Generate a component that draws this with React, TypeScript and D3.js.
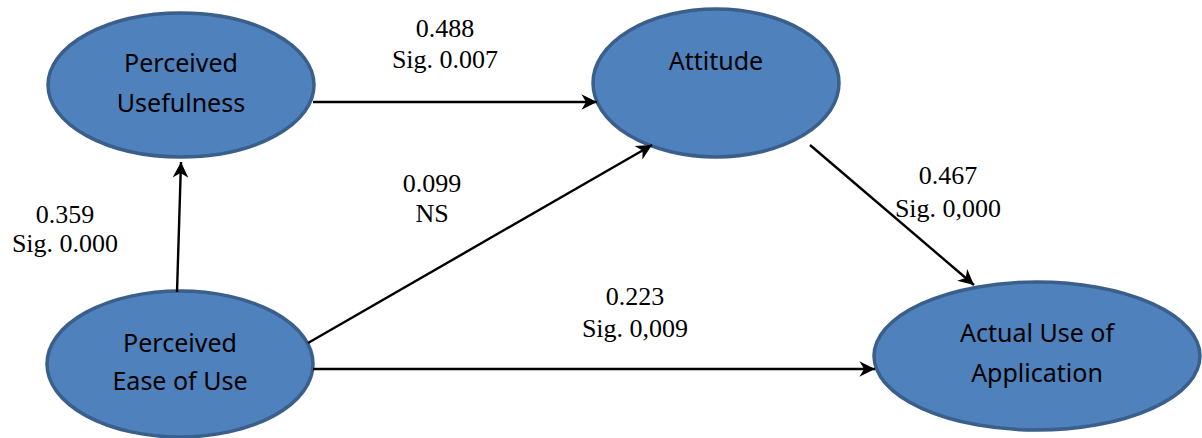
import React, { useEffect, useRef } from "react";
import * as d3 from "d3";

// ---- data ----
const constructs = ["Perceived Usefulness", "Attitude", "Perceived Ease of Use", "Actual Use of Application"];
const constructLines = [["Perceived", "Usefulness"], ["Attitude"], ["Perceived", "Ease of Use"], ["Actual Use of", "Application"]];
const pathFrom = [2, 0, 2, 1, 2];
const pathTo = [0, 1, 1, 3, 3];
const coefficients = ["0.359", "0.488", "0.099", "0.467", "0.223"];
const significance = ["Sig. 0.000", "Sig. 0.007", "NS", "Sig. 0,000", "Sig. 0,009"];

// ---- layout (positions, not data) ----
const nodeLayout = [
  { cx: 181, cy: 85, rx: 133, ry: 72, textY: [72, 112] },
  { cx: 716, cy: 83, rx: 123, ry: 74, textY: [70] },
  { cx: 180, cy: 364, rx: 133, ry: 73, textY: [352, 390] },
  { cx: 1037, cy: 356, rx: 163, ry: 74, textY: [342, 382] },
];
const edgeLayout = [
  { x1: 177, y1: 292, x2: 181, y2: 162, lx: 65, ly: [223, 252] },
  { x1: 313, y1: 102, x2: 597, y2: 102, lx: 445, ly: [37, 68] },
  { x1: 308, y1: 343, x2: 652, y2: 145, lx: 432, ly: [192, 222] },
  { x1: 810, y1: 145, x2: 974, y2: 285, lx: 948, ly: [184, 217] },
  { x1: 313, y1: 369, x2: 875, y2: 369, lx: 635, ly: [305, 337] },
];

export default function App() {
  const ref = useRef<SVGSVGElement>(null);
  useEffect(() => {
    const svg = d3.select(ref.current);
    svg.selectAll("*").remove();
    svg.append("rect").attr("width", 1202).attr("height", 438).attr("fill", "#fff");

    const defs = svg.append("defs");
    defs
      .append("marker")
      .attr("id", "arr")
      .attr("viewBox", "0 0 10 10")
      .attr("refX", 10)
      .attr("refY", 5)
      .attr("markerWidth", 7)
      .attr("markerHeight", 6.5)
      .attr("markerUnits", "strokeWidth")
      .attr("orient", "auto")
      .append("path")
      .attr("d", "M0,0 L10,5 L0,10 L3,5 Z")
      .attr("fill", "#000");

    const nodes = svg
      .selectAll("g.node")
      .data(constructs)
      .enter()
      .append("g")
      .attr("class", "node");
    nodes
      .append("ellipse")
      .attr("cx", (_, i) => nodeLayout[i].cx)
      .attr("cy", (_, i) => nodeLayout[i].cy)
      .attr("rx", (_, i) => nodeLayout[i].rx)
      .attr("ry", (_, i) => nodeLayout[i].ry)
      .attr("fill", "#4F81BD")
      .attr("stroke", "#3A5F8B")
      .attr("stroke-width", 3.5);
    nodes.each(function (_, i) {
      const g = d3.select(this);
      constructLines[i].forEach((t, j) => {
        g.append("text")
          .attr("x", nodeLayout[i].cx)
          .attr("y", nodeLayout[i].textY[j])
          .attr("text-anchor", "middle")
          .attr("font-family", "'Noto Sans', sans-serif")
          .attr("font-size", 25)
          .attr("fill", "#000")
          .text(t);
      });
    });

    const edges = svg
      .selectAll("g.edge")
      .data(coefficients)
      .enter()
      .append("g")
      .attr("class", "edge");
    edges
      .append("line")
      .attr("x1", (_, i) => edgeLayout[i].x1)
      .attr("y1", (_, i) => edgeLayout[i].y1)
      .attr("x2", (_, i) => edgeLayout[i].x2)
      .attr("y2", (_, i) => edgeLayout[i].y2)
      .attr("stroke", "#000")
      .attr("stroke-width", 2.4)
      .attr("marker-end", "url(#arr)");
    edges.each(function (c, i) {
      const g = d3.select(this);
      [c, significance[i]].forEach((t, j) => {
        g.append("text")
          .attr("x", edgeLayout[i].lx)
          .attr("y", edgeLayout[i].ly[j])
          .attr("text-anchor", "middle")
          .attr("font-family", "'Liberation Serif', 'Times New Roman', serif")
          .attr("font-size", 26)
          .attr("fill", "#000")
          .text(t);
      });
    });
  }, []);
  return (
    <svg
      ref={ref}
      width={1202}
      height={438}
      style={{ position: "absolute", left: 0, top: 0, display: "block" }}
    />
  );
}
